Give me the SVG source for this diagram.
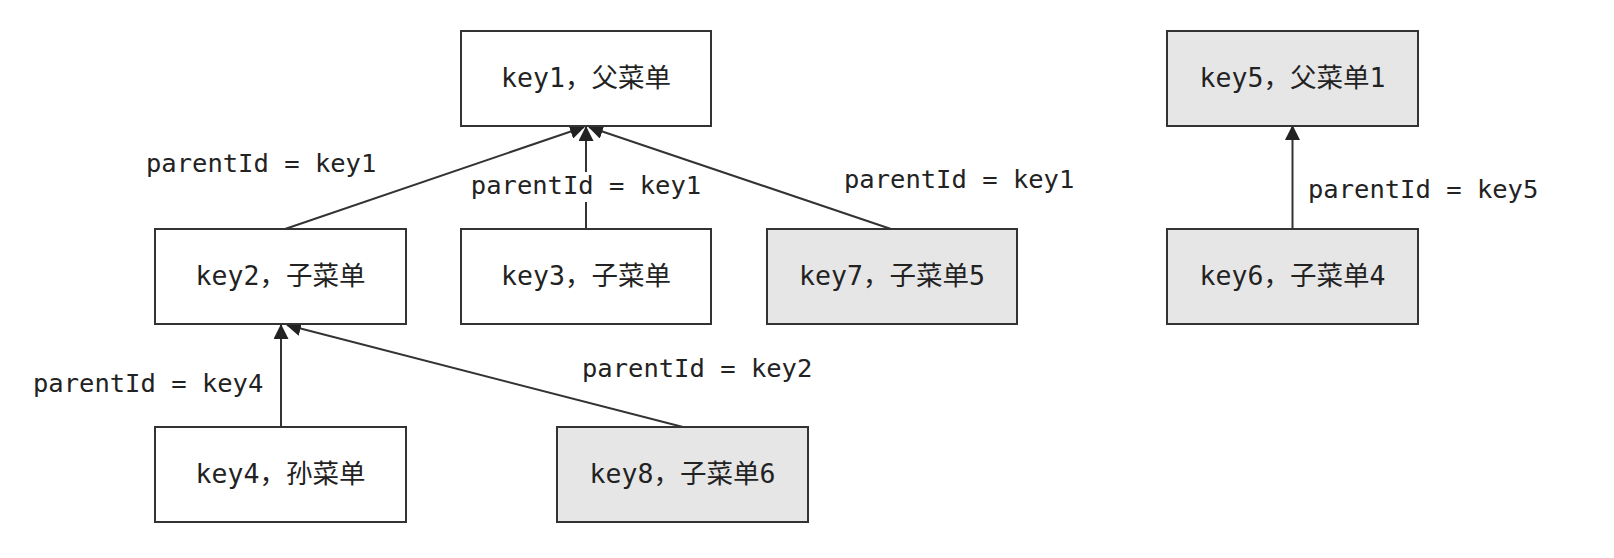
<svg xmlns="http://www.w3.org/2000/svg" width="1614" height="558" viewBox="0 0 1614 558">
<style>
.box{stroke:#333;stroke-width:2;fill:#fff}
.grey{fill:#e6e6e6}
.t{font-family:"DejaVu Sans Mono","Noto Sans CJK SC",monospace;font-size:25.5px;fill:#222}
.bt{font-size:26.5px}
.c{text-anchor:middle}
.edge{stroke:#333;stroke-width:2;fill:none}
</style>
<defs>
<marker id="arr" markerUnits="userSpaceOnUse" markerWidth="15" markerHeight="15" refX="14" refY="7.5" orient="auto">
<path d="M0,0 L15,7.5 L0,15 z" fill="#222"/>
</marker>
</defs>
<rect width="1614" height="558" fill="#fff"/>
<g id="edges">
<line class="edge" x1="285" y1="229" x2="584" y2="127" marker-end="url(#arr)"/>
<line class="edge" x1="586" y1="229" x2="586" y2="127" marker-end="url(#arr)"/>
<line class="edge" x1="891" y1="229" x2="589" y2="127" marker-end="url(#arr)"/>
<line class="edge" x1="281" y1="427" x2="281" y2="325" marker-end="url(#arr)"/>
<line class="edge" x1="683" y1="427" x2="287" y2="325" marker-end="url(#arr)"/>
<line class="edge" x1="1292.5" y1="229" x2="1292.5" y2="126" marker-end="url(#arr)"/>
<text class="t" x="146" y="172">parentId = key1</text>
<rect x="471" y="172" width="231" height="30" fill="#fff"/>
<text class="t c" x="586" y="194">parentId = key1</text>
<text class="t" x="844" y="188">parentId = key1</text>
<text class="t" x="33" y="392">parentId = key4</text>
<text class="t" x="582" y="377">parentId = key2</text>
<text class="t" x="1308" y="198">parentId = key5</text>
</g>
<g id="key1"><rect class="box" x="461" y="31" width="250" height="95"/><text class="t bt c" x="586" y="87">key1，父菜单</text></g>
<g id="key2"><rect class="box" x="155" y="229" width="251" height="95"/><text class="t bt c" x="280.5" y="285">key2，子菜单</text></g>
<g id="key3"><rect class="box" x="461" y="229" width="250" height="95"/><text class="t bt c" x="586" y="285">key3，子菜单</text></g>
<g id="key7"><rect class="box grey" x="767" y="229" width="250" height="95"/><text class="t bt c" x="892" y="285">key7，子菜单5</text></g>
<g id="key4"><rect class="box" x="155" y="427" width="251" height="95"/><text class="t bt c" x="280.5" y="483">key4，孙菜单</text></g>
<g id="key8"><rect class="box grey" x="557" y="427" width="251" height="95"/><text class="t bt c" x="682.5" y="483">key8，子菜单6</text></g>
<g id="key5"><rect class="box grey" x="1167" y="31" width="251" height="95"/><text class="t bt c" x="1292.5" y="87">key5，父菜单1</text></g>
<g id="key6"><rect class="box grey" x="1167" y="229" width="251" height="95"/><text class="t bt c" x="1292.5" y="285">key6，子菜单4</text></g>
</svg>
